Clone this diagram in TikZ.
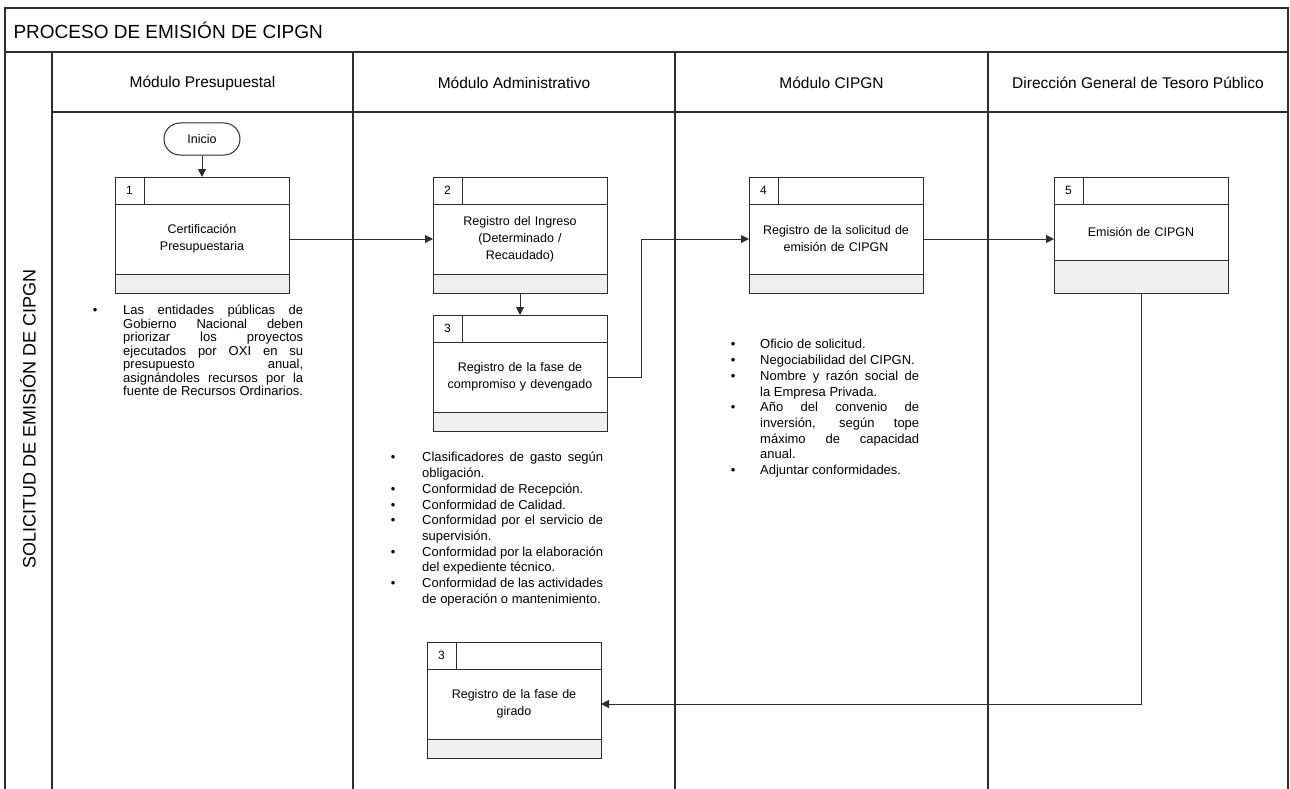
\documentclass[tikz,border=0pt]{standalone}
\usepackage{fontspec}
\setmainfont{Liberation Sans}
\usetikzlibrary{arrows.meta,positioning}
\definecolor{ink}{RGB}{45,45,45}
\definecolor{footgray}{RGB}{240,240,240}
\hyphenpenalty=10000
\tolerance=9999

\newenvironment{notelist}[1]{\begin{list}{\textbullet}{\setlength{\leftmargin}{#1}\setlength{\labelwidth}{6pt}%
  \setlength{\labelsep}{\dimexpr#1-6pt\relax}\setlength{\itemsep}{0pt}\setlength{\parsep}{0pt}%
  \setlength{\topsep}{0pt}\setlength{\partopsep}{0pt}}}{\end{list}}

\tikzset{
  boxhead/.style={draw=ink,line width=1pt,minimum width=174pt,minimum height=27pt,inner sep=0pt,outer sep=0pt},
  idcell/.style={draw=ink,line width=1pt,minimum width=29pt,minimum height=27pt,inner sep=0pt,outer sep=0pt,
    font=\fontsize{12}{14}\selectfont},
  boxbody/.style={draw=ink,line width=1pt,minimum width=174pt,text width=160pt,align=center,inner sep=0pt,
    outer sep=0pt,font=\fontsize{12.5}{17}\selectfont},
  boxfoot/.style={draw=ink,fill=footgray,line width=1pt,minimum width=174pt,inner sep=0pt,outer sep=0pt},
  flow/.style={draw=ink,line width=1pt,-{Triangle[length=8pt,width=8pt]}},
  lanehead/.style={font=\fontsize{15.5}{18}\selectfont},
  notes/.style={anchor=north west,inner sep=0pt,text width=#1,align=justify,font=\fontsize{13}{15.7}\selectfont}
}

\newcommand{\stepbox}[7]{%
  \node[boxhead,anchor=north west] (#1h) at (#2,#3) {};
  \node[idcell,anchor=north west] at (#1h.north west) {#4};
  \node[boxbody,minimum height=#6,below=0pt of #1h] (#1) {#5};
  \node[boxfoot,minimum height=#7,below=0pt of #1] (#1f) {};
}

\begin{document}
\begin{tikzpicture}[x=1pt,y=-1pt]
  \useasboundingbox (0,0) rectangle (1290,789);

  \draw[ink,line width=1.2pt] (5,789) -- (5,8) -- (1288,8) -- (1288,789);
  \draw[ink,line width=1.2pt] (5,52) -- (1288,52);
  \draw[ink,line width=1.2pt] (52,112) -- (1288,112);
  \node[anchor=west,font=\fontsize{19}{22}\selectfont] (title) at (10,30) {PROCESO DE EMISIÓN DE CIPGN};
  \node[rotate=90,font=\fontsize{18}{21}\selectfont] (pool) at (28,419) {SOLICITUD DE EMISIÓN DE CIPGN};

  \foreach \l/\r/\t [count=\i] in {52/353/{Módulo Presupuestal},353/675/{Módulo Administrativo},
      675/988/{Módulo CIPGN},988/1288/{Dirección General de Tesoro Público}}
  {
    \draw[ink,line width=1.2pt] (\l,52) -- (\l,789);
    \node[lanehead] (lane\i) at ({(\l+\r)/2},83) {\t};
  }

  \node[draw=ink,line width=1pt,rounded corners=16pt,minimum width=76pt,minimum height=32pt,
    font=\fontsize{12.5}{15}\selectfont] (inicio) at (202,139) {Inicio};

  \stepbox{b1}{115}{177}{1}{Certificación\\Presupuestaria}{70pt}{19pt}
  \stepbox{b2}{433}{177}{2}{Registro del Ingreso\\(Determinado /\\Recaudado)}{70pt}{19pt}
  \stepbox{b3}{433}{315}{3}{Registro de la fase de\\compromiso y devengado}{70pt}{19pt}
  \stepbox{b4}{749}{177}{4}{Registro de la solicitud de\\emisión de CIPGN}{70pt}{19pt}
  \stepbox{b5}{1054}{177}{5}{Emisión de CIPGN}{56pt}{33pt}
  \stepbox{b6}{427}{642}{3}{Registro de la fase de\\girado}{70pt}{19pt}

  \node[notes=211.7pt,font=\fontsize{13}{13.5}\selectfont] (notes1) at (91.3,301) {\begin{notelist}{31.7pt}
    \item Las entidades públicas de\linebreak Gobierno Nacional deben\linebreak priorizar los proyectos\linebreak
      ejecutados por OXI en su\linebreak presupuesto anual,\linebreak asignándoles recursos por la\linebreak
      fuente de Recursos Ordinarios.
  \end{notelist}};
  \node[notes=213.7pt] (notes3) at (389.3,446) {\begin{notelist}{32.7pt}
    \item Clasificadores de gasto según\linebreak obligación.
    \item Conformidad de Recepción.
    \item Conformidad de Calidad.
    \item Conformidad por el servicio de\linebreak supervisión.
    \item Conformidad por la elaboración\linebreak del expediente técnico.
    \item Conformidad de las actividades\linebreak de operación o mantenimiento.
  \end{notelist}};
  \node[notes=189.7pt] (notes4) at (729.3,333) {\begin{notelist}{30.7pt}
    \item Oficio de solicitud.
    \item Negociabilidad del CIPGN.
    \item Nombre y razón social de\linebreak la Empresa Privada.
    \item Año del convenio de\linebreak inversión, según tope\linebreak máximo de capacidad\linebreak anual.
    \item Adjuntar conformidades.
  \end{notelist}};

  \draw[flow] (inicio) -- (b1h);
  \draw[flow] (b1) -- (b2);
  \draw[flow] (b2f) -- (b3h);
  \draw[flow] (b3.east) -- ++(34,0) |- (b4.west);
  \draw[flow] (b4.east) -- (b4.east -| b5.west);
  \draw[flow] (b5f.south) |- (b6.east);
\end{tikzpicture}
\end{document}
